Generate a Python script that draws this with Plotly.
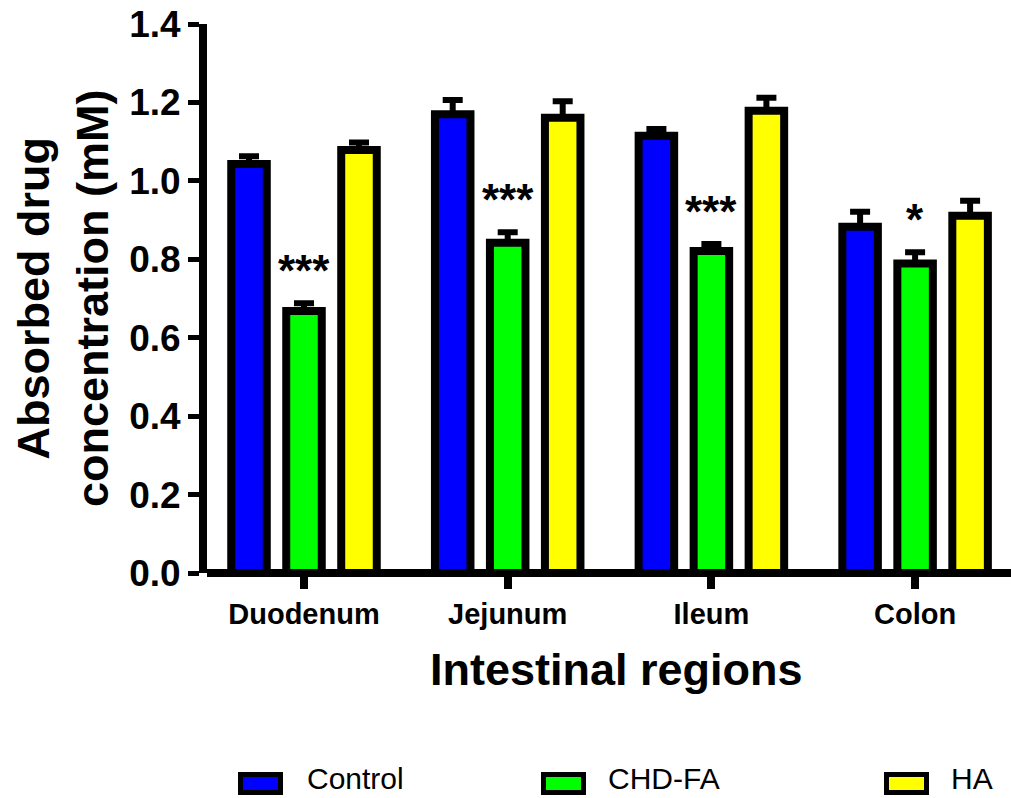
import plotly.graph_objects as go

# ---------------- data ----------------
regions = ["Duodenum", "Jejunum", "Ileum", "Colon"]
series_names = ["Control", "CHD-FA", "HA"]
control = [1.043, 1.170, 1.115, 0.883]
control_err = [0.020, 0.036, 0.017, 0.038]
chdfa = [0.668, 0.842, 0.821, 0.789]
chdfa_err = [0.020, 0.027, 0.018, 0.029]
ha = [1.079, 1.161, 1.179, 0.911]
ha_err = [0.019, 0.042, 0.033, 0.038]
significance = ["***", "***", "***", "*"]
y_ticks = [0.0, 0.2, 0.4, 0.6, 0.8, 1.0, 1.2, 1.4]

colors = ["#0000FF", "#00FF00", "#FFFF00"]
FONT = "Liberation Sans, Arial, sans-serif"

# ---------------- layout geometry ----------------
WIDTH, HEIGHT = 1011, 798
L, R, T, B = 207, 0, 24, 225
PW = WIDTH - L - R
PH = HEIGHT - T - B


def px_x(px):
    return (px - L) / PW


def px_y(py):
    return (T + PH - py) / PH


x_idx = list(range(len(regions)))
values = [control, chdfa, ha]
errors = [control_err, chdfa_err, ha_err]

fig = go.Figure()
for name, vals, errs, col in zip(series_names, values, errors, colors):
    fig.add_trace(go.Bar(
        name=name,
        x=x_idx,
        y=vals,
        marker=dict(color=col, line=dict(color="black", width=8)),
        error_y=dict(type="data", array=errs, arrayminus=[0] * len(errs),
                     symmetric=False, color="black", thickness=6, width=10),
        showlegend=False,
    ))

annotations = []
# significance marks above CHD-FA bars
for i, (v, e, s) in enumerate(zip(chdfa, chdfa_err, significance)):
    annotations.append(dict(
        x=i, y=v + e, xref="x", yref="y", text=s, showarrow=False,
        yanchor="bottom", xanchor="center", yshift=6,
        font=dict(family=FONT, size=44, color="black", weight="bold"),
    ))

# axis titles
annotations.append(dict(
    x=px_x(616), y=px_y(669), xref="paper", yref="paper",
    text="Intestinal regions", showarrow=False,
    xanchor="center", yanchor="middle",
    font=dict(family=FONT, size=45, color="black", weight="bold"),
))
annotations.append(dict(
    x=px_x(63), y=px_y(298), xref="paper", yref="paper",
    text="Absorbed drug<br>concentration (mM)", showarrow=False,
    textangle=-90, xanchor="center", yanchor="middle",
    font=dict(family=FONT, size=45, color="black", weight="bold"),
))

# custom legend
shapes = []
swatch_left = [240.5, 543.5, 886.5]
text_left = [305, 606, 949]
for name, col, sl, tl in zip(series_names, colors, swatch_left, text_left):
    shapes.append(dict(
        type="rect", xref="paper", yref="paper",
        x0=px_x(sl), x1=px_x(sl + 40), y0=px_y(792.5), y1=px_y(774.5),
        fillcolor=col, line=dict(color="black", width=5),
    ))
    annotations.append(dict(
        x=px_x(tl), y=px_y(797), xref="paper", yref="paper",
        text=name, showarrow=False, xanchor="left", yanchor="bottom",
        font=dict(family=FONT, size=30, color="black"),
    ))

fig.update_layout(
    width=WIDTH, height=HEIGHT,
    margin=dict(l=L, r=R, t=T, b=B, pad=0),
    paper_bgcolor="white", plot_bgcolor="white",
    barmode="group", bargap=0.19, bargroupgap=0.354,
    showlegend=False,
    annotations=annotations,
    shapes=shapes,
    xaxis=dict(
        range=[-(304 - L) / 203.7, -(304 - L) / 203.7 + PW / 203.7],
        tickmode="array", tickvals=x_idx, ticktext=regions,
        ticks="outside", ticklen=15, tickwidth=8, tickcolor="black",
        showline=False, showgrid=False, zeroline=False,
        tickfont=dict(family=FONT, size=29, color="black", weight="bold"),
        fixedrange=True,
    ),
    yaxis=dict(
        range=[0, 1.4],
        tickmode="array", tickvals=y_ticks,
        ticktext=[f"{t:.1f}" for t in y_ticks],
        ticks="outside", ticklen=11, tickwidth=5, tickcolor="black",
        showline=True, linewidth=8, linecolor="black",
        showgrid=False,
        zeroline=True, zerolinewidth=8, zerolinecolor="black",
        tickfont=dict(family=FONT, size=37, color="black", weight="bold"),
        fixedrange=True,
    ),
)

fig.write_html("out.html", config={"displayModeBar": False})
